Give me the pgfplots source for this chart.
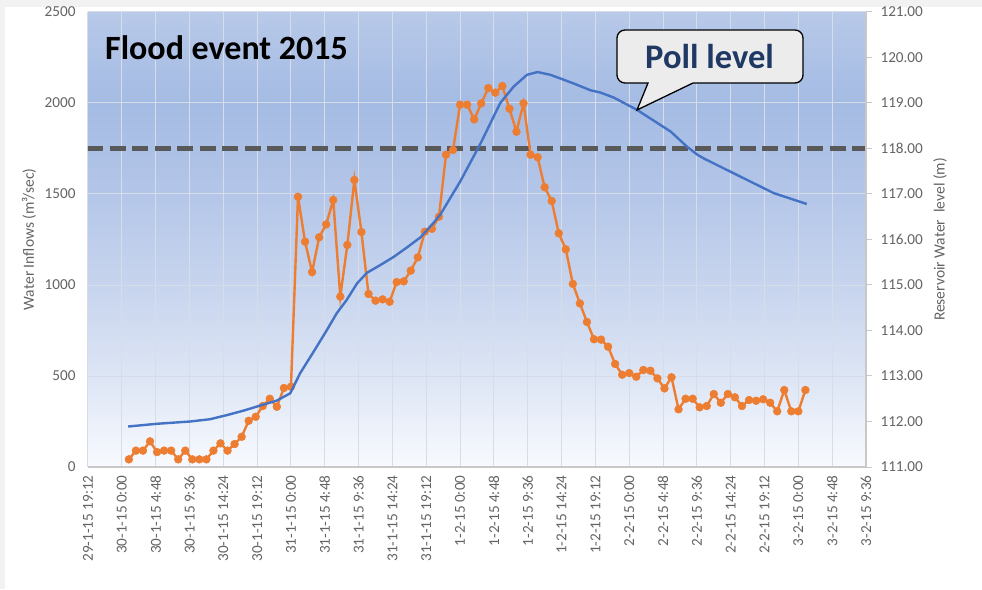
\documentclass[border=0pt]{standalone}
\usepackage{pgfplots}
\pgfplotsset{compat=1.18}
\usepackage{fontspec}
\setmainfont{Carlito}
\definecolor{orangeS}{RGB}{237,125,49}
\definecolor{blueS}{RGB}{68,114,196}
\definecolor{tickgray}{RGB}{100,100,100}
\definecolor{gridc}{RGB}{214,220,232}
\definecolor{dashc}{RGB}{89,89,89}
\definecolor{navy}{RGB}{31,56,100}
\definecolor{calloutfill}{RGB}{236,236,236}
\definecolor{axisgray}{RGB}{200,200,200}
\definecolor{framegray}{RGB}{242,242,242}
\definecolor{bgA}{RGB}{248,250,254}
\definecolor{bgB}{RGB}{222,230,245}
\definecolor{bgC}{RGB}{200,213,238}
\definecolor{bgD}{RGB}{180,198,232}
\definecolor{bgE}{RGB}{164,187,227}
\definecolor{bgF}{RGB}{184,201,233}
\pgfdeclareverticalshading{plotbg}{100bp}{color(0bp)=(bgA); color(25bp)=(bgA); color(34.5bp)=(bgB); color(44.5bp)=(bgC); color(55bp)=(bgD); color(65bp)=(bgE); color(75bp)=(bgF); color(100bp)=(bgF)}
\newcommand{\tickfont}{\fontsize{15.2}{17}\selectfont}
\newcommand{\labfont}{\fontsize{15.5}{17}\selectfont}

\pgfplotstableread{
h v
1 42
2 90
3 90
4 141
5 82
6 90
7 90
8 42
9 90
10 42
11 42
12 42
13 90
14 130
15 90
16 126
17 166
18 254
19 276
20 335
21 375
22 331
23 434
24 441
25 1485
26 1238
27 1071
28 1262
29 1333
30 1467
31 936
32 1220
33 1577
34 1291
35 951
36 914
37 921
38 908
39 1016
40 1020
41 1079
42 1152
43 1293
44 1309
45 1375
46 1716
47 1742
48 1991
49 1991
50 1910
51 1998
52 2082
53 2057
54 2093
55 1969
56 1842
57 1998
58 1716
59 1702
60 1537
61 1462
62 1284
63 1196
64 1006
65 899
66 797
67 702
68 700
69 661
70 566
71 507
72 516
73 496
74 533
75 529
76 487
77 432
78 493
79 317
80 375
81 375
82 328
83 335
84 401
85 353
86 401
87 383
88 335
89 368
90 364
91 372
92 353
93 306
94 423
95 306
96 306
97 423
}\inflows

\pgfplotstableread{
h lev
0.9 111.89
5.0 111.95
9.7 112.00
12.5 112.05
14.9 112.14
17.3 112.24
19.2 112.33
22.0 112.46
23.9 112.62
25.3 113.06
27.2 113.53
29.1 114.01
30.5 114.38
31.9 114.67
33.4 115.04
34.8 115.27
36.7 115.44
38.6 115.62
40.5 115.83
42.4 116.05
44.2 116.36
45.2 116.55
48.0 117.27
50.9 118.11
53.7 119.00
55.6 119.36
57.5 119.62
59.0 119.68
60.8 119.62
62.2 119.54
64.1 119.43
66.5 119.28
67.9 119.23
69.8 119.12
73.1 118.85
77.9 118.37
80.2 118.04
81.7 117.86
82.6 117.78
87.8 117.38
92.5 117.02
97.2 116.78
}\levels

\begin{document}
\begin{tikzpicture}
\path[use as bounding box] (-88pt,-122pt) rectangle (894pt,467pt);
\fill[framegray] (-88pt,-122pt) rectangle (894pt,467pt);
\fill[white] (-83pt,-122pt) rectangle (894pt,460pt);
\begin{axis}[
  scale only axis, width=778pt, height=455pt,
  xmin=-4.8, xmax=105.6, ymin=0, ymax=2500,
  axis background/.style={shade, shading=plotbg},
  axis x line*=bottom, axis y line*=left,
  x axis line style={axisgray, line width=1.2pt, -},
  y axis line style={draw=none, -},
  tick style={draw=none},
  xtick={-4.8,0,4.8,9.6,14.4,19.2,24,28.8,33.6,38.4,43.2,48,52.8,57.6,62.4,67.2,72,76.8,81.6,86.4,91.2,96,100.8,105.6},
  xticklabels={29-1-15 19:12,30-1-15 0:00,30-1-15 4:48,30-1-15 9:36,30-1-15 14:24,30-1-15 19:12,31-1-15 0:00,31-1-15 4:48,31-1-15 9:36,31-1-15 14:24,31-1-15 19:12,1-2-15 0:00,1-2-15 4:48,1-2-15 9:36,1-2-15 14:24,1-2-15 19:12,2-2-15 0:00,2-2-15 4:48,2-2-15 9:36,2-2-15 14:24,2-2-15 19:12,3-2-15 0:00,3-2-15 4:48,3-2-15 9:36},
  ytick={0,500,1000,1500,2000,2500},
  grid=major, major grid style={gridc, line width=1pt},
  /pgf/number format/assume math mode=true,
  /pgf/number format/1000 sep={},
  xticklabel style={rotate=90, anchor=east, font=\tickfont, text=tickgray, xshift=-5pt},
  yticklabel style={font=\tickfont, text=tickgray, xshift=-9pt},
  ylabel={Water Inflows (m³/sec)},
  ylabel style={at={(axis description cs:-0.076,0.5)}, anchor=center, font=\labfont, text=tickgray},
]
\addplot[dashc, line width=5pt, dash pattern=on 16pt off 6.5pt, forget plot] coordinates {(-4.9,1750) (105.6,1750)};
\addplot[orangeS, line width=2.4pt, mark=*, mark size=3.9pt, mark options={fill=orangeS, draw=orangeS, line width=0.5pt}] table[x=h, y=v] {\inflows};
\end{axis}
\begin{axis}[
  scale only axis, width=778pt, height=455pt,
  xmin=-4.8, xmax=105.6, ymin=111, ymax=121,
  axis x line=none,
  axis y line*=right,
  y axis line style={axisgray, line width=1.2pt, -},
  ytick={111,112,113,114,115,116,117,118,119,120,121},
  tick align=outside, major tick length=6pt,
  tick style={axisgray, line width=1pt},
  /pgf/number format/assume math mode=true,
  yticklabel style={/pgf/number format/.cd, fixed, fixed zerofill, precision=2, /tikz/.cd, font=\tickfont, text=tickgray, xshift=5pt},
  ylabel={Reservoir Water\ \ level (m)},
  ylabel style={at={(axis description cs:1.095,0.5)}, anchor=center, font=\labfont, text=tickgray},
]
\addplot[blueS, line width=2.4pt] table[x=h, y=lev] {\levels};
\end{axis}
\node[anchor=west, font=\fontsize{34}{37}\selectfont\bfseries, text=black, inner sep=0pt] at (17pt,419pt) {Flood event 2015};
\draw[fill=calloutfill, line width=1.3pt] (529pt,437pt) [rounded corners=8pt] -- (715pt,437pt) -- (715pt,384pt) [sharp corners] -- (605pt,384pt) -- (549pt,357pt) -- (560pt,384pt) [rounded corners=8pt] -- (529pt,384pt) -- cycle;
\node[font=\fontsize{34.5}{37}\selectfont\bfseries, text=navy, inner sep=0pt] at (621.5pt,410.5pt) {Poll level};
\end{tikzpicture}
\end{document}
